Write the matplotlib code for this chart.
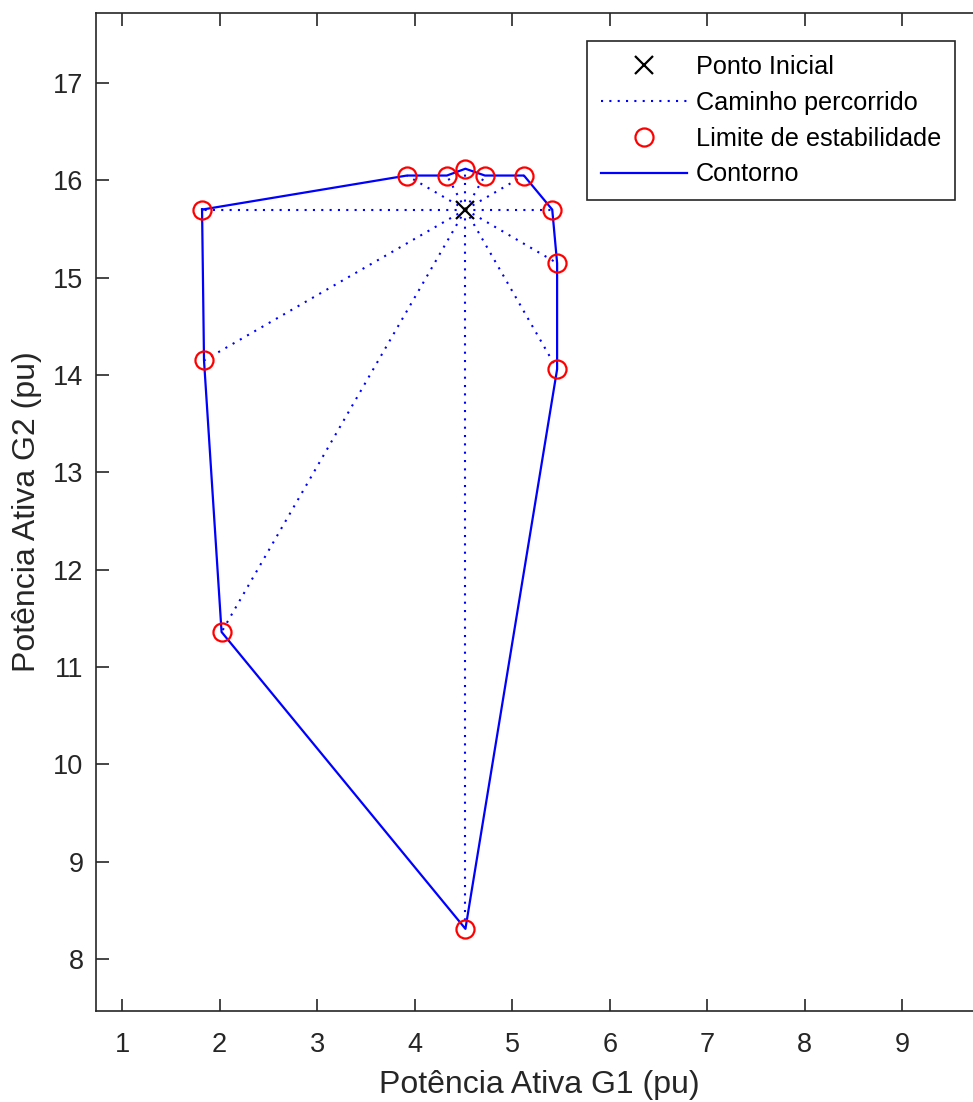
import matplotlib.pyplot as plt
import numpy as np

plt.rcParams['font.family'] = ['Liberation Sans', 'DejaVu Sans']

# ponto de operacao inicial (G1, G2)
p0_g1 = 4.52
p0_g2 = 15.70

# limites de estabilidade encontrados, em ordem angular
lim_g1 = [1.82, 3.92, 4.33, 4.52, 4.72, 5.12, 5.41, 5.46, 5.46, 4.52, 2.02, 1.84]
lim_g2 = [15.70, 16.05, 16.05, 16.12, 16.05, 16.05, 15.70, 15.15, 14.06, 8.31, 11.36, 14.15]

dotted = (0, (1, 3))

fig = plt.figure(figsize=(9.73, 11.02), dpi=100)
ax = fig.add_axes([0.0987, 0.0826, 0.929, 0.9056])

# caminhos percorridos a partir do ponto inicial
for g1, g2 in zip(lim_g1, lim_g2):
    ax.plot([p0_g1, g1], [p0_g2, g2], ls=dotted, color='blue', lw=1.5)

# contorno fechado
cont_g1 = lim_g1 + [lim_g1[0]]
cont_g2 = lim_g2 + [lim_g2[0]]
ax.plot(cont_g1, cont_g2, '-', color='blue', lw=1.6, zorder=3)

ax.plot(lim_g1, lim_g2, 'o', mfc='none', mec='red', ms=13, mew=1.6, ls='none', zorder=4)
ax.plot(p0_g1, p0_g2, 'x', color='black', ms=13, mew=1.6, zorder=5)

ax.set_xlim(0.733, 10.0)
ax.set_ylim(7.466, 17.72)
ax.set_xticks(np.arange(1, 10))
ax.set_yticks(np.arange(8, 18))
ax.tick_params(direction='in', length=9, width=1.2, labelsize=19.5, top=True, right=True,
               colors='#262626')
ax.tick_params(axis='x', pad=15)
ax.tick_params(axis='y', pad=9)
for s in ax.spines.values():
    s.set_linewidth(1.2)
    s.set_color('#262626')

ax.set_xlabel('Potência Ativa G1 (pu)', fontsize=23, color='#262626', labelpad=9)
ax.xaxis.label.set_x(0.49)
ax.set_ylabel('Potência Ativa G2 (pu)', fontsize=23, color='#262626', labelpad=8)

h1 = plt.Line2D([], [], marker='x', color='black', ls='none', ms=13, mew=1.6)
h2 = plt.Line2D([], [], ls=dotted, color='blue', lw=1.5)
h3 = plt.Line2D([], [], marker='o', mfc='none', mec='red', ls='none', ms=13, mew=1.6)
h4 = plt.Line2D([], [], ls='-', color='blue', lw=1.6)
leg = ax.legend([h1, h2, h3, h4],
                ['Ponto Inicial', 'Caminho percorrido', 'Limite de estabilidade', 'Contorno'],
                loc='upper left', bbox_to_anchor=(0.543, 0.972), borderaxespad=0,
                fontsize=18.2, fancybox=False, framealpha=1, edgecolor='#262626',
                handlelength=3.4, handletextpad=0.36, borderpad=0.55, labelspacing=0.47)
leg.get_frame().set_linewidth(1.2)

fig.savefig('out.png', dpi=100)
